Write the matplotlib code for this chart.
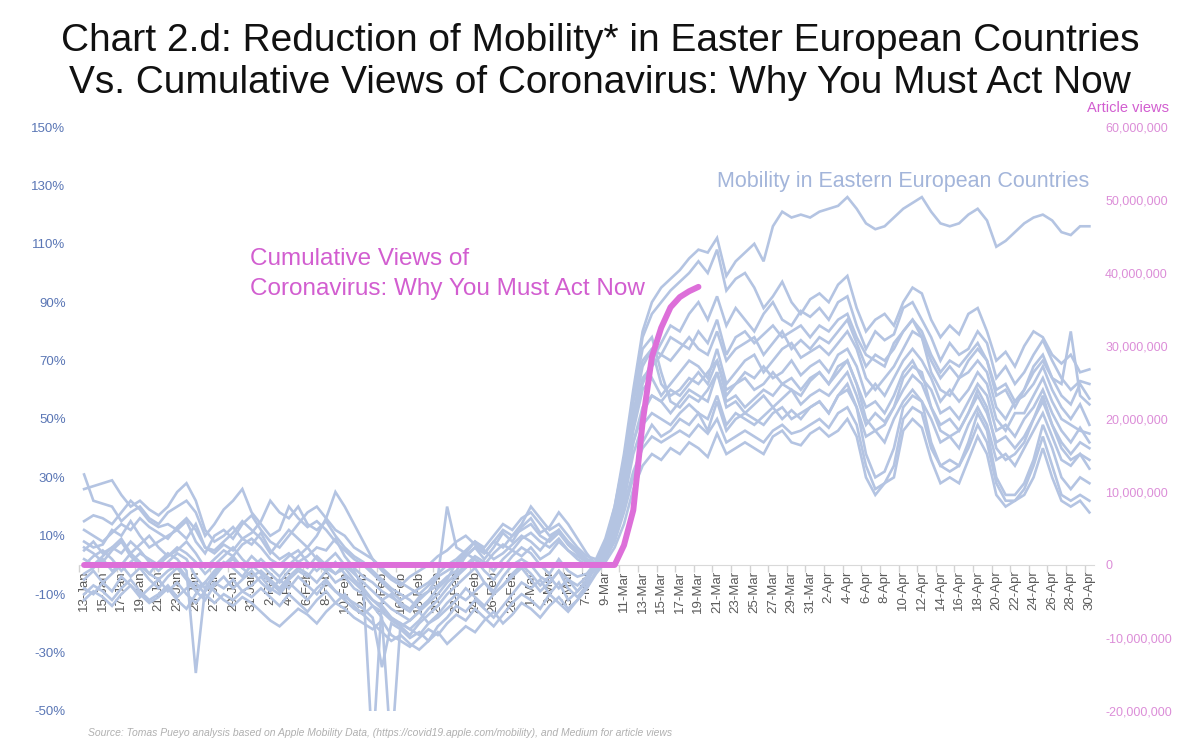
import numpy as np
import pandas as pd
import matplotlib
matplotlib.use("Agg")
import matplotlib.pyplot as plt
from matplotlib.ticker import FuncFormatter

plt.rcParams["font.family"] = ["Liberation Sans", "DejaVu Sans"]

# dates 13-Jan .. 30-Apr 2020 (category axis)
dates = pd.date_range("2020-01-13", "2020-04-30", freq="D")
date_labels = [f"{d.day}-{d.strftime('%b')}" for d in dates]

# reduction of mobility, % (one list per country, Jan | Feb | Mar | Apr)
mob_01 = ([8, 6, 7, 12, 10, 15, 10, 6, 8, 10, 12, 9, 14, 6, 4, 7, 5, 9, 7]
          + [11, 5, 2, 4, 1, 3, 6, 5, 9, 3, -1, -4, -6, -9, -11, -13, -15, -11, -9, -7, -4, -2, 3, 6, 2, 6, 11, 8, 13]
          + [16, 11, 13, 18, 14, 9, 4, 0, 7, 20, 38, 60, 80, 90, 95, 98, 101, 105, 108, 107, 112, 99, 104, 107, 110, 104, 116, 121, 119, 120, 119]
          + [121, 122, 123, 126, 122, 117, 115, 116, 119, 122, 124, 126, 121, 117, 116, 117, 120, 122, 118, 109, 111, 114, 117, 119, 120, 118, 114, 113, 116, 116])
mob_02 = ([31, 22, 21, 20, 15, 18, 20, 16, 14, 18, 20, 22, 18, 10, 14, 19, 22, 26, 18]
          + [14, 10, 12, 20, 16, 13, 15, 12, 8, 5, 2, 0, -3, -6, -9, -12, -10, -8, -6, -3, 0, 2, 5, 8, 6, 10, 14, 12, 16]
          + [18, 14, 10, 12, 8, 5, 2, 1, 8, 18, 34, 58, 78, 86, 90, 94, 97, 100, 104, 100, 108, 94, 98, 100, 95, 88, 92, 97, 90, 86, 91]
          + [93, 90, 96, 99, 88, 80, 84, 86, 82, 90, 95, 93, 84, 78, 82, 79, 86, 88, 80, 70, 73, 68, 75, 80, 78, 72, 69, 72, 66, 67])
mob_03 = ([26, 27, 28, 29, 24, 20, 22, 19, 17, 20, 25, 28, 22, 12, 8, 10, 13, 9, 11]
          + [15, 22, 18, 16, 20, 14, 12, 15, 10, 6, 3, 1, -2, -5, -8, -10, -12, -15, -12, -8, -5, 1, 4, 2, 0, 4, 7, 5, 9]
          + [11, 8, 6, 9, 5, 3, 1, -1, 5, 14, 28, 48, 62, 70, 76, 82, 80, 86, 90, 84, 92, 82, 88, 84, 80, 86, 90, 84, 82, 87, 85]
          + [88, 84, 90, 92, 82, 74, 80, 77, 79, 88, 90, 84, 78, 70, 76, 72, 74, 80, 76, 64, 68, 62, 66, 72, 77, 70, 64, 60, 63, 62])
mob_04 = ([15, 17, 16, 14, 18, 22, 19, 15, 13, 14, 12, 15, 8, 4, 10, 12, 9, 14, 17]
          + [12, 8, 6, 10, 14, 18, 20, 16, 12, 10, 6, 4, 2, -1, -4, -6, -8, -10, -7, -4, -2, 0, 3, 6, 4, 8, 12, 10, 14]
          + [20, 16, 12, 14, 10, 6, 3, 2, 9, 20, 36, 56, 70, 74, 72, 78, 76, 74, 80, 76, 84, 72, 78, 80, 76, 79, 82, 78, 80, 82, 78]
          + [82, 80, 84, 86, 78, 72, 70, 68, 76, 80, 84, 80, 72, 66, 70, 68, 72, 76, 70, 60, 62, 56, 60, 68, 72, 64, 58, 55, 62, 57])
mob_05 = ([12, 10, 8, 11, 14, 12, 16, 13, 11, 9, 13, 16, 12, 6, 5, 8, 11, 15, 12]
          + [9, 4, 8, 12, 9, 6, 10, 16, 25, 20, 14, 8, 2, -2, -5, -7, -4, -2, 0, 3, 5, 8, 10, 7, 4, 8, 6, 10, 12]
          + [14, 10, 8, 11, 7, 4, 2, 0, 7, 16, 30, 50, 64, 68, 72, 70, 74, 78, 74, 72, 80, 70, 74, 76, 78, 72, 76, 80, 74, 77, 74]
          + [78, 76, 80, 84, 76, 68, 72, 70, 74, 80, 84, 78, 70, 64, 68, 64, 70, 74, 70, 58, 60, 54, 60, 66, 70, 64, 62, 80, 58, 55])
mob_06 = ([5, 8, 4, 6, 9, 4, 7, 10, 6, 3, 5, 8, 4, -1, 2, 5, 3, 7, 9]
          + [6, 2, 0, 3, 5, 1, -2, 1, 4, 0, -3, -6, -9, -12, -15, -17, -19, -16, -13, -10, -6, -3, 0, 3, 1, -2, 2, 5, 3]
          + [6, 2, 4, 8, 5, 2, 0, -1, 4, 12, 26, 46, 60, 64, 58, 62, 66, 70, 68, 64, 74, 62, 66, 70, 72, 66, 70, 74, 76, 71, 73]
          + [75, 72, 76, 80, 74, 64, 60, 64, 68, 74, 80, 78, 66, 60, 58, 64, 66, 70, 66, 54, 50, 56, 58, 62, 68, 60, 54, 50, 55, 48])
mob_07 = ([2, 0, 3, 6, 4, 8, 5, 1, -2, 1, 4, 2, -4, -8, -3, 0, 2, -1, 3]
          + [0, -3, -6, -2, 1, -1, 3, 0, -3, -1, -5, -8, -12, -14, -18, -20, -22, -19, -15, -12, -8, -4, -1, 2, -2, -5, -1, 3, 6]
          + [4, 0, -3, 2, -2, -4, -3, 1, 5, 14, 30, 52, 68, 74, 62, 58, 60, 64, 62, 66, 70, 60, 62, 66, 64, 68, 64, 66, 70, 65, 68]
          + [70, 66, 72, 74, 68, 58, 62, 58, 64, 70, 74, 70, 64, 56, 60, 56, 60, 66, 62, 50, 46, 52, 52, 58, 64, 56, 50, 48, 46, 45])
mob_08 = ([-3, -1, 2, -2, 0, 4, 1, -3, -5, -2, 0, -4, -8, -6, -2, 1, -1, -4, 0]
          + [-3, -6, -9, -5, -2, -4, 0, -2, -6, -4, -8, -10, -14, -16, -19, -21, -24, -20, -17, -14, -10, -7, -4, -1, -6, -9, -4, 0, 2]
          + [0, -4, -6, -2, -5, -7, -4, 0, 3, 10, 24, 42, 54, 58, 56, 52, 56, 60, 58, 56, 66, 56, 58, 54, 57, 60, 58, 62, 60, 58, 63]
          + [66, 62, 66, 70, 62, 54, 56, 52, 58, 66, 70, 64, 60, 52, 54, 50, 56, 62, 58, 46, 48, 44, 50, 54, 60, 52, 46, 42, 47, 42])
mob_09 = ([0, 3, 5, 2, -2, 1, 4, 2, 0, 3, 6, 4, 1, -3, 0, 3, 6, 2, -1]
          + [2, -1, -4, 0, 3, 6, 2, -1, -3, 0, -2, -8, -65, -12, -10, -14, -16, -12, -9, -4, 20, 6, 4, 8, 5, 2, 4, 7, 10]
          + [8, 5, 9, 12, 7, 4, 1, 0, 6, 16, 34, 58, 74, 78, 66, 56, 54, 58, 56, 60, 66, 54, 56, 52, 55, 58, 54, 57, 60, 55, 58]
          + [60, 58, 62, 66, 58, 48, 52, 49, 54, 60, 65, 62, 54, 48, 50, 46, 52, 58, 52, 42, 44, 40, 44, 50, 56, 48, 42, 38, 42, 40])
mob_10 = ([-8, -10, -6, -9, -4, -7, -11, -8, -5, -9, -6, -10, -13, -9, -6, -8, -5, -9, -7]
          + [-4, -8, -10, -6, -9, -12, -8, -5, -9, -11, -13, -15, -18, -35, -20, -22, -25, -23, -26, -21, -18, -14, -16, -12, -15, -18, -14, -10, -6]
          + [-8, -5, -10, -6, -12, -9, -5, -1, 3, 10, 22, 38, 48, 52, 50, 48, 52, 55, 52, 50, 58, 48, 52, 50, 48, 51, 54, 50, 53, 50, 54]
          + [56, 52, 58, 62, 54, 44, 46, 42, 50, 56, 60, 56, 50, 42, 44, 40, 48, 54, 48, 36, 38, 34, 40, 46, 52, 44, 36, 34, 38, 33])
mob_11 = ([-5, -2, -6, -3, 0, -4, -1, -5, -8, -4, -1, -5, -9, -12, -7, -4, -8, -5, -2]
          + [-6, -9, -5, -8, -4, -7, -10, -6, -9, -12, -15, -17, -14, -18, -65, -20, -22, -24, -20, -17, -13, -10, -12, -9, -6, -10, -7, -3, 0]
          + [-3, -7, -4, -8, -5, -9, -6, 1, 4, 12, 26, 42, 52, 58, 56, 60, 58, 62, 66, 62, 70, 58, 62, 64, 60, 62, 66, 62, 64, 60, 64]
          + [66, 62, 68, 70, 62, 50, 46, 48, 54, 64, 68, 66, 54, 46, 44, 46, 52, 60, 54, 40, 36, 38, 42, 50, 58, 48, 40, 36, 38, 36])
mob_12 = ([-10, -7, -9, -12, -8, -5, -9, -12, -10, -7, -11, -8, -6, -10, -13, -10, -12, -9, -11]
          + [-8, -11, -14, -10, -13, -16, -12, -9, -13, -15, -18, -20, -22, -19, -24, -26, -28, -25, -22, -24, -20, -17, -19, -15, -18, -21, -17, -13, -10]
          + [-12, -15, -10, -13, -16, -12, -8, -2, 2, 8, 18, 30, 42, 48, 44, 46, 50, 48, 52, 46, 56, 46, 50, 52, 50, 48, 52, 54, 50, 52, 54]
          + [56, 52, 58, 60, 54, 38, 30, 32, 40, 54, 58, 56, 42, 34, 36, 34, 42, 52, 46, 30, 24, 24, 28, 36, 48, 40, 30, 26, 30, 28])
mob_13 = ([6, 4, 1, 5, 8, 3, 0, -3, 1, 4, 2, -2, -37, -8, -4, 0, 3, -1, -4]
          + [-2, -5, -8, -4, -1, -3, -6, -2, 1, -3, -6, -9, -12, -15, -18, -21, -19, -16, -20, -18, -15, -12, -8, -11, -14, -10, -7, -4, -1]
          + [-5, -9, -6, -2, -8, -11, -7, 1, 3, 10, 20, 32, 40, 44, 42, 44, 46, 44, 48, 45, 50, 42, 44, 46, 44, 42, 46, 48, 45, 46, 48]
          + [50, 47, 52, 54, 48, 34, 26, 28, 34, 50, 54, 52, 40, 34, 32, 34, 40, 48, 42, 28, 22, 22, 26, 34, 44, 34, 24, 22, 24, 22])
mob_14 = ([-12, -9, -11, -14, -10, -7, -10, -13, -11, -8, -12, -15, -10, -6, -9, -12, -14, -11, -13]
          + [-16, -19, -21, -18, -15, -17, -20, -16, -13, -10, -14, -17, -20, -23, -26, -24, -27, -29, -26, -23, -27, -24, -21, -23, -19, -16, -20, -17, -13]
          + [-15, -18, -14, -11, -15, -12, -8, -3, 1, 6, 14, 26, 34, 38, 36, 40, 38, 42, 40, 37, 45, 38, 40, 42, 40, 38, 44, 46, 42, 41, 45]
          + [47, 44, 46, 50, 44, 30, 24, 28, 30, 46, 50, 47, 36, 28, 30, 28, 36, 44, 38, 24, 20, 22, 24, 30, 40, 30, 22, 20, 22, 18])

mobility = [mob_01, mob_02, mob_03, mob_04, mob_05, mob_06, mob_07,
            mob_08, mob_09, mob_10, mob_11, mob_12, mob_13, mob_14]
for s in mobility:
    assert len(s) == len(dates), len(s)

# cumulative article views (13-Jan .. 19-Mar)
views = [0] * 58 + [2.7e6, 7.5e6, 19.5e6, 28.5e6, 32.5e6, 35.3e6, 36.7e6, 37.5e6, 38.1e6]

left_ticks = [-50, -30, -10, 10, 30, 50, 70, 90, 110, 130, 150]
right_ticks = [-20e6, -10e6, 0, 10e6, 20e6, 30e6, 40e6, 50e6, 60e6]

MOB_COLOR = "#b4c4e2"
PINK = "#dd6fd9"
PINK_TEXT = "#d25ed0"

fig = plt.figure(figsize=(12, 7.48), dpi=100)
ax = fig.add_axes([0.0662, 0.0495, 0.8455, 0.7807])
x = np.arange(len(dates))
for s in mobility:
    ax.plot(x, s, color=MOB_COLOR, lw=1.9, solid_joinstyle="miter")

ax.set_xlim(-0.5, len(dates) - 0.5)
ax.set_ylim(-50, 150)
ax.set_yticks(left_ticks)
ax.yaxis.set_major_formatter(FuncFormatter(lambda v, p: f"{v:.0f}%"))
ax.tick_params(axis="y", length=0, labelsize=9.5, labelcolor="#5a76b5", pad=10)

ax.set_xticks(x[::2])
ax.set_xticklabels(date_labels[::2])
ax.set_xticks(np.arange(-0.5, len(dates), 2), minor=True)
ax.tick_params(axis="x", which="major", length=0, pad=4, labelrotation=90,
               labelsize=9.5, labelcolor="#595959")
ax.tick_params(axis="x", which="minor", length=5, color="#d2d2d2", width=1)

for side in ["top", "left", "right"]:
    ax.spines[side].set_visible(False)
ax.spines["bottom"].set_position(("data", 0))
ax.spines["bottom"].set_color("#d9d9d9")

ax2 = ax.twinx()
ax2.plot(x[:len(views)], views, color=PINK, lw=4.3, solid_capstyle="round",
         solid_joinstyle="round")
ax2.set_ylim(-20e6, 60e6)
ax2.set_yticks(right_ticks)
ax2.yaxis.set_major_formatter(FuncFormatter(lambda v, p: f"{v:,.0f}"))
ax2.tick_params(axis="y", length=0, labelsize=9, labelcolor="#dc8ed8", pad=8)
for side in ax2.spines:
    ax2.spines[side].set_visible(False)

fig.text(0.5, 0.945, "Chart 2.d: Reduction of Mobility* in Easter European Countries",
         ha="center", va="center", fontsize=28, color="#111111")
fig.text(0.5, 0.889, "Vs. Cumulative Views of Coronavirus: Why You Must Act Now",
         ha="center", va="center", fontsize=28, color="#111111")
fig.text(0.974, 0.855, "Article views", ha="right", va="center",
         fontsize=10.5, color=PINK_TEXT)
fig.text(0.208, 0.634, "Cumulative Views of\nCoronavirus: Why You Must Act Now",
         ha="left", va="center", fontsize=17.5, color=PINK_TEXT, linespacing=1.5)
fig.text(0.908, 0.757, "Mobility in Eastern European Countries", ha="right",
         va="center", fontsize=15.5, color="#a3b5da")
fig.text(0.073, 0.02, "Source: Tomas Pueyo analysis based on Apple Mobility Data, "
         "(https://covid19.apple.com/mobility), and Medium for article views",
         ha="left", va="center", fontsize=7.5, style="italic", color="#b0b0b0")

fig.savefig("out.png", dpi=100)
